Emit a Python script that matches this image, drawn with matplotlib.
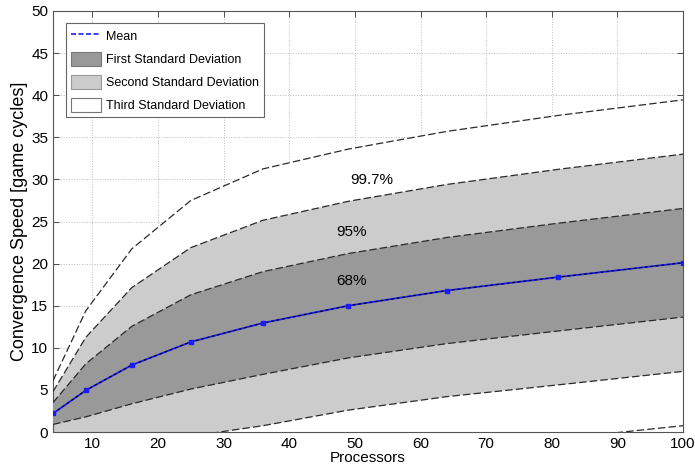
import numpy as np
import matplotlib.pyplot as plt
from matplotlib.patches import Patch
from matplotlib.lines import Line2D

plt.rcParams['font.family'] = ['Liberation Sans', 'DejaVu Sans']

# processors (perfect squares) and measured convergence speed
processors = [4, 9, 16, 25, 36, 49, 64, 81, 100]
mean_speed = [2.2, 4.95, 7.95, 10.7, 12.95, 15.0, 16.8, 18.4, 20.1]
std_speed = [1.3, 3.15, 4.6, 5.6, 6.1, 6.2, 6.3, 6.4, 6.45]

band_labels = ['99.7%', '95%', '68%']
band_label_pos = [(52.5, 29.9), (49.5, 23.8), (49.5, 17.9)]

x = np.array(processors)
m = np.array(mean_speed)
s = np.array(std_speed)

fig = plt.figure(figsize=(6.95, 4.68), dpi=100)
ax = fig.add_axes([0.0763, 0.0769, 0.9065, 0.8996])

DARK = '#999999'
LIGHT = '#cccccc'

# bands, outermost first
ax.fill_between(x, m - 3 * s, m + 3 * s, facecolor='white', lw=0, zorder=1)
ax.fill_between(x, m - 2 * s, m + 2 * s, facecolor=LIGHT, lw=0, zorder=2)
ax.fill_between(x, m - s, m + s, facecolor=DARK, lw=0, zorder=3)

# band edges
for k in (1, 2, 3):
    for sign in (1, -1):
        ax.plot(x, m + sign * k * s, color='#2a2a2a', lw=0.9,
                dashes=(6, 2.5), zorder=4)

# mean
ax.plot(x, m, color='#1a1aff', lw=1.3, zorder=5)
ax.plot(x, m, color='black', lw=0.8, dashes=(2.5, 2.5), zorder=6)
ax.plot(x, m, ls='none', marker='s', ms=3.5, color='#1a1aff',
        mec='#1a1aff', zorder=7)

for lab, (tx, ty) in zip(band_labels, band_label_pos):
    ax.text(tx, ty, lab, ha='center', va='center', fontsize=11, zorder=8)

ax.set_xlim(4, 100)
ax.set_ylim(0, 50)
ax.set_xticks(np.arange(10, 101, 10))
ax.set_yticks(np.arange(0, 51, 5))
ax.tick_params(direction='in', top=True, right=True, labelsize=11,
               length=4, width=0.6, colors='#333333', labelcolor='black')
ax.grid(True, color='#bbbbbb', ls=':', lw=0.7, zorder=0)
ax.set_axisbelow(True)
for sp in ax.spines.values():
    sp.set_color('#555555')
    sp.set_linewidth(0.8)

ax.set_xlabel('Processors', fontsize=11, labelpad=0)
ax.set_ylabel('Convergence Speed [game cycles]', fontsize=13, labelpad=2)

handles = [
    Line2D([0], [0], color='#1a1aff', lw=1.2, dashes=(3, 1.5)),
    Patch(facecolor=DARK, edgecolor='#777777', lw=0.8),
    Patch(facecolor=LIGHT, edgecolor='#999999', lw=0.8),
    Patch(facecolor='white', edgecolor='#777777', lw=0.8),
]
labels = ['Mean', 'First Standard Deviation', 'Second Standard Deviation',
          'Third Standard Deviation']
leg = ax.legend(handles, labels, loc='upper left', fontsize=9,
                fancybox=False, framealpha=1, edgecolor='#666666',
                borderaxespad=1.0, handlelength=2.4, handleheight=1.4,
                labelspacing=0.7, borderpad=0.4, handletextpad=0.4)
leg.get_frame().set_linewidth(0.8)
leg.set_zorder(10)

fig.savefig('out.png', dpi=100)
